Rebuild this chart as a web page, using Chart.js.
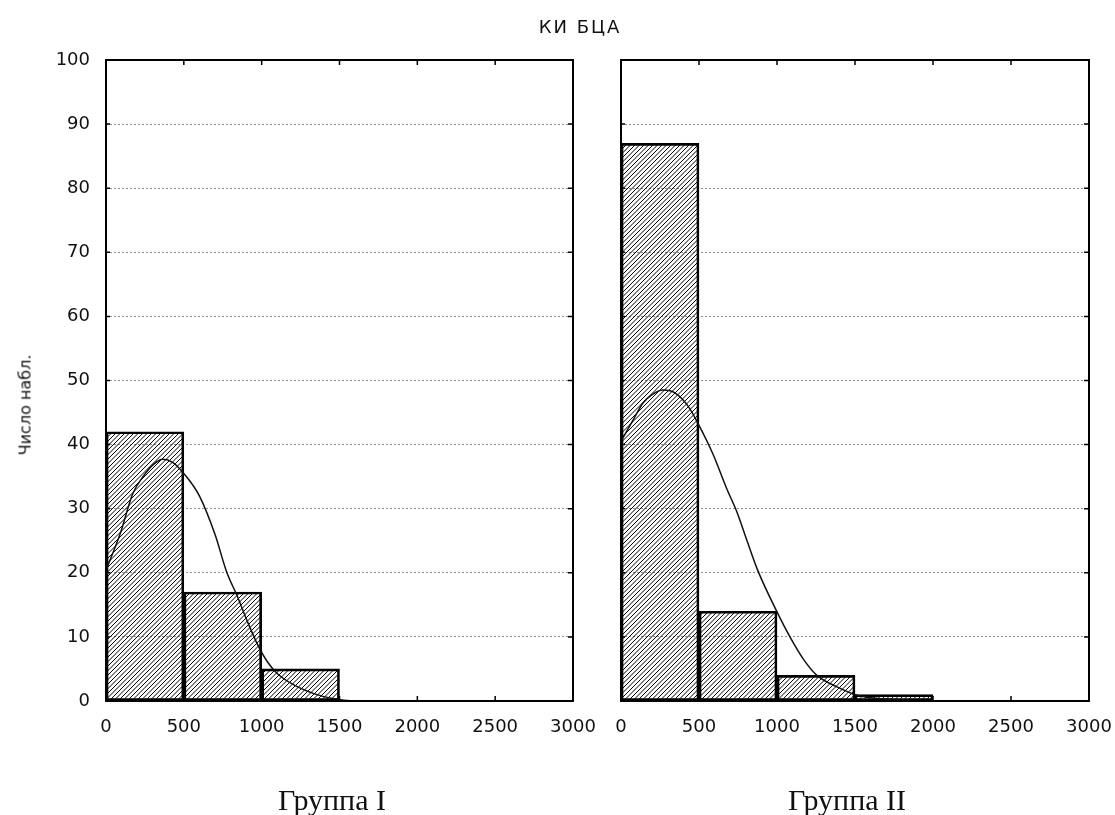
<!DOCTYPE html>
<html>
<head>
<meta charset="utf-8">
<script src="https://cdn.jsdelivr.net/npm/chart.js@4"></script>
<style>
  body { margin: 0; background: #fff; }
  #wrap { position: relative; width: 1115px; height: 815px; overflow: hidden; }
  canvas { position: absolute; top: 0; }
  .txt { position: absolute; white-space: nowrap; color: #111; }
  #title { left: 580px; top: 16px; transform: translateX(-50%); font: 18px 'DejaVu Sans'; letter-spacing: 2px; }
  #ylab { left: 25px; top: 405px; transform: translate(-50%, -50%) rotate(-90deg); font: 16px 'DejaVu Sans'; }
  .grp { top: 785px; transform: translateX(-50%); font: 30px 'Liberation Serif'; line-height: 1; }
</style>
</head>
<body>
<div id="wrap">
  <canvas id="chart1" width="600" height="815" style="left:0"></canvas>
  <canvas id="chart2" width="515" height="815" style="left:600px"></canvas>
  <div class="txt" id="title">КИ БЦА</div>
  <div class="txt" id="ylab">Число набл.</div>
  <div class="txt grp" style="left:332px">Группа I</div>
  <div class="txt grp" style="left:847px">Группа II</div>
</div>
<script>
// интервалы гистограммы (центры) и частоты
const binCenters = [250, 750, 1250, 1750];
const group1Counts = [42, 17, 5, 0];
const group2Counts = [87, 14, 4, 1];
const xTicks = [0, 500, 1000, 1500, 2000, 2500, 3000];

// кривые нормального распределения
const curve1X = [0, 90, 173, 238, 300, 366, 430, 500, 600, 700, 777, 841, 905, 970, 1040, 1100, 1201, 1355, 1503, 1600];
const curve1Y = [20.4, 26, 32.4, 35, 36.8, 37.7, 37.2, 35.5, 32, 26, 20, 16.5, 12.6, 9, 6, 4.3, 2.6, 1, 0.2, 0];
const curve2X = [0, 70, 141, 200, 269, 350, 430, 500, 590, 680, 743, 808, 878, 1000, 1083, 1170, 1256, 1385, 1513, 1700, 2000];
const curve2Y = [40.5, 43.5, 46.5, 47.8, 48.5, 48, 46, 43, 38.5, 33, 29.5, 25, 20.3, 13.9, 10, 6.5, 4, 2.2, 0.9, 0.3, 0];

Chart.defaults.font.family = 'DejaVu Sans';
Chart.defaults.color = '#111';

// штриховка столбцов
function hatch() {
  const s = 9, c = document.createElement('canvas');
  c.width = s; c.height = s;
  const g = c.getContext('2d');
  g.strokeStyle = '#000';
  g.lineWidth = 1;
  for (let k = -2; k <= 2; k++) {
    g.beginPath();
    g.moveTo(k * 4.5, s);
    g.lineTo(k * 4.5 + s, 0);
    g.stroke();
  }
  return g.createPattern(c, 'repeat');
}

// рамка и внутренние засечки
const framePlugin = {
  id: 'frame',
  afterDatasetsDraw(chart) {
    const { ctx, chartArea: a, scales: { x, y } } = chart;
    ctx.save();
    ctx.strokeStyle = '#000';
    ctx.lineWidth = 2;
    ctx.strokeRect(a.left, a.top, a.right - a.left, a.bottom - a.top);
    ctx.lineWidth = 1.5;
    ctx.beginPath();
    x.ticks.forEach(t => {
      const px = x.getPixelForValue(t.value);
      ctx.moveTo(px, a.top); ctx.lineTo(px, a.top + 5);
      ctx.moveTo(px, a.bottom); ctx.lineTo(px, a.bottom - 5);
    });
    y.ticks.forEach(t => {
      const py = y.getPixelForValue(t.value);
      ctx.moveTo(a.left, py); ctx.lineTo(a.left + 4, py);
      ctx.moveTo(a.right, py); ctx.lineTo(a.right - 5, py);
    });
    ctx.stroke();
    ctx.restore();
  }
};

function makeChart(id, counts, cx, cy, showY, yWidth, padRight) {
  const bars = binCenters.map((c, i) => ({ x: c, y: counts[i] })).filter(p => p.y > 0);
  const curve = cx.map((v, i) => ({ x: v, y: cy[i] }));
  return new Chart(document.getElementById(id).getContext('2d'), {
    data: {
      datasets: [
        {
          type: 'line',
          data: curve,
          borderColor: '#111',
          borderWidth: 1.5,
          pointRadius: 0,
          fill: false,
          cubicInterpolationMode: 'monotone',
          order: 0
        },
        {
          type: 'bar',
          data: bars,
          backgroundColor: hatch(),
          borderColor: '#000',
          borderWidth: 2,
          borderSkipped: false,
          barPercentage: 1,
          categoryPercentage: 1,
          order: 1
        }
      ]
    },
    options: {
      responsive: false,
      animation: false,
      layout: { padding: { left: 0, top: 60, right: padRight, bottom: 0 } },
      plugins: { legend: { display: false }, tooltip: { enabled: false } },
      scales: {
        x: {
          type: 'linear',
          min: 0,
          max: 3000,
          offset: false,
          afterBuildTicks: s => { s.ticks = xTicks.map(v => ({ value: v })); },
          afterFit: s => { s.height = 114; s.paddingLeft = 0; s.paddingRight = 0; },
          grid: { display: false, drawTicks: false, offset: false },
          border: { display: false },
          ticks: { autoSkip: false, maxRotation: 0, padding: 16, font: { size: 18 }, color: '#111',
                   callback: v => String(v) }
        },
        y: {
          min: 0,
          max: 100,
          afterFit: s => { s.width = yWidth; },
          grid: { color: '#8c8c8c', lineWidth: 1, drawTicks: false },
          border: { display: false, dash: [2, 2] },
          ticks: { display: showY, stepSize: 10, padding: 16, font: { size: 18 }, color: '#111' }
        }
      }
    },
    plugins: [framePlugin]
  });
}

makeChart('chart1', group1Counts, curve1X, curve1Y, true, 106, 27);
makeChart('chart2', group2Counts, curve2X, curve2Y, false, 21, 26);
</script>
</body>
</html>
